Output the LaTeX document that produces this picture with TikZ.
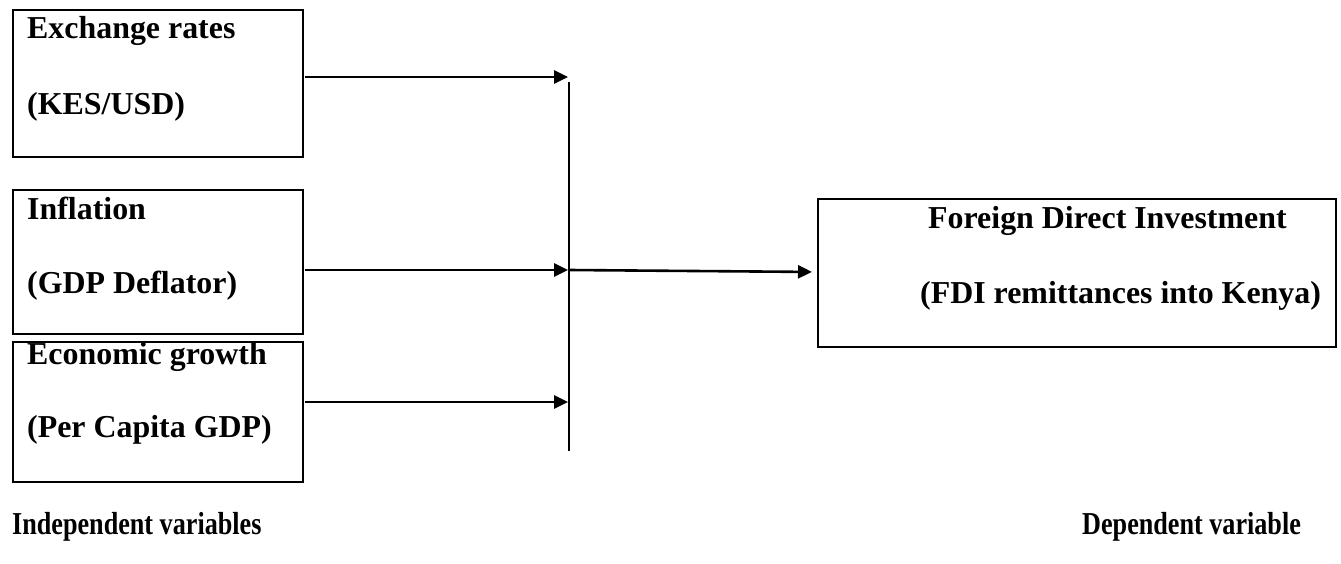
\documentclass[tikz,border=0pt]{standalone}
\usepackage{fontspec}
\setmainfont{Liberation Serif}
\usetikzlibrary{arrows.meta}
\begin{document}
\begin{tikzpicture}[x=1pt,y=-1pt,
  box/.style={draw, line width=2.8pt, anchor=north west, inner sep=0pt, outer sep=0pt},
  lbl/.style={anchor=base west, inner sep=0pt, font=\fontsize{31.9}{38}\selectfont\bfseries},
  conn/.style={line width=2.6pt, -{Triangle[length=14pt,width=13pt]}},
  bus/.style={line width=2.8pt}]
\useasboundingbox (0,0) rectangle (1341,564);
% boxes
\node[box, minimum width=290pt, minimum height=147pt] (b1) at (13,10) {};
\node[box, minimum width=290pt, minimum height=144pt] (b2) at (13,190) {};
\node[box, minimum width=290pt, minimum height=140pt] (b3) at (13,342) {};
\node[box, minimum width=518pt, minimum height=148pt] (fdi) at (818,199) {};
% texts
\node[lbl] (t1a) at (27,39) {Exchange rates};
\node[lbl] (t1b) at (27,115) {(KES/USD)};
\node[lbl] (t2a) at (27,220) {Inflation};
\node[lbl] (t2b) at (27,293) {(GDP Deflator)};
\node[lbl] (t3a) at (27,364) {Economic growth};
\node[lbl] (t3b) at (27,437) {(Per Capita GDP)};
\node[lbl] (t4a) at (928,229) {Foreign Direct Investment};
\node[lbl] (t4b) at (920,303) {(FDI remittances into Kenya)};
\node[lbl] (ind) at (12,534) {\scalebox{0.82}[1]{Independent variables}};
\node[lbl] (dep) at (1082,534) {\scalebox{0.82}[1]{Dependent variable}};
% bus line
\coordinate (bt) at (569,82);
\coordinate (bb) at (569,451);
\coordinate (j1) at (569,77);
\coordinate (j2) at (569,270);
\coordinate (j3) at (569,402);
\coordinate (fin) at (818,272);
\draw[bus] (bt) -- (bb);
% connectors
\draw[conn, shorten <=2pt, shorten >=1pt] (b1.east |- j1) -- (j1);
\draw[conn, shorten <=2pt, shorten >=1pt] (b2.east |- j2) -- (j2);
\draw[conn, shorten <=2pt, shorten >=1pt] (b3.east |- j3) -- (j3);
\draw[conn, shorten >=6pt] (j2) -- (fin);
\end{tikzpicture}
\end{document}
